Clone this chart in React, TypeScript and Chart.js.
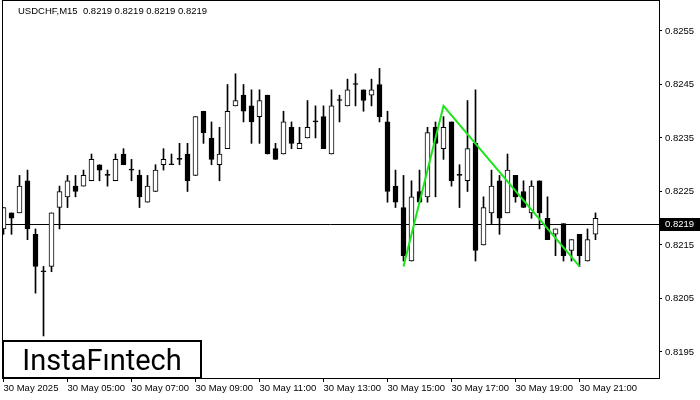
import React, { useEffect, useRef } from "react";
import { Chart, registerables } from "chart.js";

Chart.register(...registerables);

// ---- data (USDCHF M15, 30 May 2025, 03:00 .. 21:30) ----
const symbolTitle = "USDCHF,M15  0.8219 0.8219 0.8219 0.8219";
const currentPrice = 0.8219;
const logoText = "InstaFıntech";

const opens = [
  0.8218, 0.8221, 0.8221, 0.8227, 0.8217, 0.821, 0.8211, 0.8222, 0.8224, 0.8226,
  0.8226, 0.8227, 0.823, 0.8228, 0.8227, 0.8232, 0.8229, 0.8228, 0.8223, 0.8225,
  0.823, 0.823, 0.8231, 0.8232, 0.8228, 0.824, 0.8235, 0.823, 0.8233, 0.8241,
  0.8243, 0.8241, 0.8239, 0.8243, 0.8233, 0.8232, 0.8237, 0.8233, 0.8235, 0.8238,
  0.8239, 0.8232, 0.8242, 0.8241, 0.8245, 0.8244, 0.8243, 0.8245, 0.8238, 0.8226,
  0.8222, 0.8212, 0.8225, 0.8224, 0.8237, 0.8233, 0.8238, 0.8228, 0.8227, 0.8234,
  0.8215, 0.8221, 0.8227, 0.8221, 0.8228, 0.8225, 0.8221, 0.8227, 0.822, 0.8217,
  0.8219, 0.8214, 0.8217, 0.8212, 0.8217,
];
const highs = [
  0.8222, 0.8221, 0.8228, 0.8229, 0.8218, 0.8211, 0.8221, 0.8226, 0.8228, 0.8228,
  0.8229, 0.8232, 0.823, 0.8229, 0.8232, 0.8233, 0.8231, 0.8229, 0.8228, 0.823,
  0.8233, 0.8232, 0.8234, 0.8234, 0.8239, 0.824, 0.8238, 0.8237, 0.8245, 0.8247,
  0.8245, 0.8244, 0.8244, 0.8243, 0.8234, 0.824, 0.8238, 0.8237, 0.8242, 0.8241,
  0.8241, 0.8244, 0.8243, 0.8246, 0.8247, 0.8244, 0.8246, 0.8248, 0.824, 0.8229,
  0.8228, 0.8227, 0.8229, 0.8237, 0.8238, 0.8239, 0.8238, 0.823, 0.8242, 0.8244,
  0.8224, 0.8229, 0.8228, 0.8232, 0.8228, 0.8227, 0.8227, 0.8227, 0.8224, 0.8218,
  0.8219, 0.8216, 0.8217, 0.8218, 0.8221,
];
const lows = [
  0.8217, 0.8217, 0.8221, 0.8216, 0.8206, 0.8198, 0.821, 0.8218, 0.8222, 0.8224,
  0.8226, 0.8227, 0.8227, 0.8226, 0.8227, 0.823, 0.8227, 0.8222, 0.8223, 0.8225,
  0.8229, 0.823, 0.823, 0.8225, 0.8228, 0.8234, 0.823, 0.8227, 0.8233, 0.8241,
  0.8238, 0.8234, 0.8234, 0.8232, 0.8231, 0.8232, 0.8233, 0.8233, 0.8235, 0.8235,
  0.8233, 0.8232, 0.8238, 0.8241, 0.8241, 0.824, 0.8241, 0.8238, 0.8223, 0.8222,
  0.8212, 0.8212, 0.8223, 0.8223, 0.8224, 0.8231, 0.8226, 0.8222, 0.8225, 0.8212,
  0.8215, 0.8219, 0.8217, 0.8221, 0.8223, 0.8222, 0.822, 0.8218, 0.8216, 0.8213,
  0.8212, 0.8212, 0.8211, 0.8212, 0.8216,
];
const closes = [
  0.8222, 0.822, 0.8226, 0.8218, 0.8211, 0.821, 0.8221, 0.8225, 0.8227, 0.8225,
  0.8228, 0.8231, 0.8229, 0.8228, 0.8231, 0.823, 0.8229, 0.8224, 0.8226, 0.8229,
  0.8231, 0.823, 0.8231, 0.8227, 0.8239, 0.8236, 0.8231, 0.8232, 0.824, 0.8242,
  0.824, 0.8238, 0.8242, 0.8232, 0.8231, 0.8238, 0.8234, 0.8234, 0.8237, 0.8238,
  0.8233, 0.8241, 0.8242, 0.8244, 0.8245, 0.8242, 0.8244, 0.8239, 0.8225, 0.8223,
  0.8213, 0.8224, 0.8223, 0.8236, 0.8234, 0.8237, 0.8227, 0.8228, 0.8233, 0.8214,
  0.8222, 0.8226, 0.822, 0.8229, 0.8224, 0.8222, 0.8226, 0.8221, 0.8216, 0.8218,
  0.8213, 0.8216, 0.8213, 0.8216, 0.822,
];

const xTickIndex = [0, 8, 16, 24, 32, 40, 48, 56, 64, 72];
const xTickLabels = [
  "30 May 2025", "30 May 05:00", "30 May 07:00", "30 May 09:00", "30 May 11:00",
  "30 May 13:00", "30 May 15:00", "30 May 17:00", "30 May 19:00", "30 May 21:00",
];
const yTicks = [0.8195, 0.8205, 0.8215, 0.8225, 0.8235, 0.8245, 0.8255];

// green pattern line (bar index, price)
const patternIndex = [50, 55, 72];
const patternPrice = [0.8211, 0.8241, 0.8211];

// visible ranges
const xMin = -0.1875;
const xMax = 81.9375;
const yMin = 0.819014;
const yMax = 0.826079;

const FONT = "Liberation Sans";

export default function App() {
  const canvasRef = useRef<HTMLCanvasElement | null>(null);

  useEffect(() => {
    document.body.style.margin = "0";
    const canvas = canvasRef.current;
    if (!canvas) return;

    const bodies = opens.map((o, i) => ({
      x: i,
      y: [Math.min(o, closes[i]), Math.max(o, closes[i])],
    }));
    const wicks = lows.map((l, i) => ({ x: i, y: [l, highs[i]] }));
    const bodyColors = opens.map((o, i) => (closes[i] > o ? "#ffffff" : "#000000"));
    const pattern = patternIndex.map((x, i) => ({ x, y: patternPrice[i] }));

    const overlay = {
      id: "mt4overlay",
      beforeDatasetsDraw(chart: any) {
        const { ctx, chartArea } = chart;
        const y = Math.round(chart.scales.y.getPixelForValue(currentPrice)) + 0.5;
        ctx.save();
        ctx.strokeStyle = "#000";
        ctx.lineWidth = 1;
        ctx.beginPath();
        ctx.moveTo(chartArea.left, y);
        ctx.lineTo(chartArea.right, y);
        ctx.stroke();
        ctx.restore();
      },
      afterDraw(chart: any) {
        const { ctx, chartArea } = chart;
        ctx.save();
        // frame
        ctx.strokeStyle = "#000";
        ctx.lineWidth = 1;
        ctx.strokeRect(
          chartArea.left + 0.5,
          chartArea.top + 0.5,
          chartArea.right - chartArea.left,
          chartArea.bottom - chartArea.top
        );
        // header
        ctx.fillStyle = "#000";
        ctx.font = `9.5px "${FONT}"`;
        ctx.textBaseline = "middle";
        ctx.textAlign = "left";
        ctx.fillText(symbolTitle, 18, 11);
        // current price label
        const py = Math.round(chart.scales.y.getPixelForValue(currentPrice));
        ctx.fillStyle = "#000";
        ctx.fillRect(chartArea.right + 1, py - 6, 40, 13);
        ctx.fillStyle = "#fff";
        ctx.fillText(currentPrice.toFixed(4), chartArea.right + 6, py + 0.5);
        // logo box
        ctx.fillStyle = "#fff";
        ctx.fillRect(3, 341, 198, 37);
        ctx.lineWidth = 2;
        ctx.strokeStyle = "#000";
        ctx.strokeRect(3, 341, 198, 37);
        ctx.fillStyle = "#000";
        ctx.font = `29px Roboto`;
        ctx.textAlign = "center";
        ctx.textBaseline = "alphabetic";
        ctx.fillText(logoText, 102, 370);
        ctx.restore();
      },
    };

    const chart = new Chart(canvas, {
      type: "bar",
      data: {
        datasets: [
          {
            type: "line",
            data: pattern,
            borderColor: "#19e619",
            borderWidth: 2,
            pointRadius: 0,
            order: 0,
          } as any,
          {
            data: bodies,
            backgroundColor: bodyColors,
            borderColor: "#000",
            borderWidth: 1,
            borderSkipped: false,
            barThickness: 5,
            minBarLength: 1,
            grouped: false,
            order: 1,
          } as any,
          {
            data: wicks,
            backgroundColor: "#000",
            borderWidth: 0,
            barThickness: 1,
            grouped: false,
            order: 2,
          } as any,
        ],
      },
      options: {
        animation: false,
        responsive: false,
        devicePixelRatio: 1,
        layout: { padding: { left: 2, top: 0, right: 0, bottom: 0 } },
        plugins: { legend: { display: false }, tooltip: { enabled: false } },
        scales: {
          x: {
            type: "linear",
            position: "bottom",
            offset: false,
            min: xMin,
            max: xMax,
            afterBuildTicks: (s: any) => {
              s.ticks = xTickIndex.map((v) => ({ value: v }));
            },
            afterFit: (s: any) => {
              s.height = 22;
              s.paddingLeft = 0;
              s.paddingRight = 0;
            },
            grid: { offset: false, drawOnChartArea: false, drawTicks: true, tickLength: 4, color: "#000" },
            border: { display: false },
            ticks: {
              align: "start",
              padding: 1,
              maxRotation: 0,
              autoSkip: false,
              color: "#000",
              font: { family: FONT, size: 9.5 },
              callback: (v: any) => {
                const k = xTickIndex.indexOf(Number(v));
                return k >= 0 ? xTickLabels[k] : "";
              },
            },
          },
          y: {
            type: "linear",
            position: "right",
            min: yMin,
            max: yMax,
            afterBuildTicks: (s: any) => {
              s.ticks = yTicks.map((v) => ({ value: v }));
            },
            afterFit: (s: any) => {
              s.width = 41;
              s.paddingTop = 0;
              s.paddingBottom = 0;
            },
            grid: { drawOnChartArea: false, drawTicks: true, tickLength: 3, color: "#000" },
            border: { display: false },
            ticks: {
              padding: 3,
              autoSkip: false,
              color: "#000",
              font: { family: FONT, size: 9.5 },
              callback: (v: any) => Number(v).toFixed(4),
            },
          },
        },
      } as any,
      plugins: [overlay],
    });

    return () => chart.destroy();
  }, []);

  return (
    <div style={{ width: 700, height: 400, background: "#fff" }}>
      <canvas ref={canvasRef} width={700} height={400} style={{ display: "block" }} />
    </div>
  );
}
